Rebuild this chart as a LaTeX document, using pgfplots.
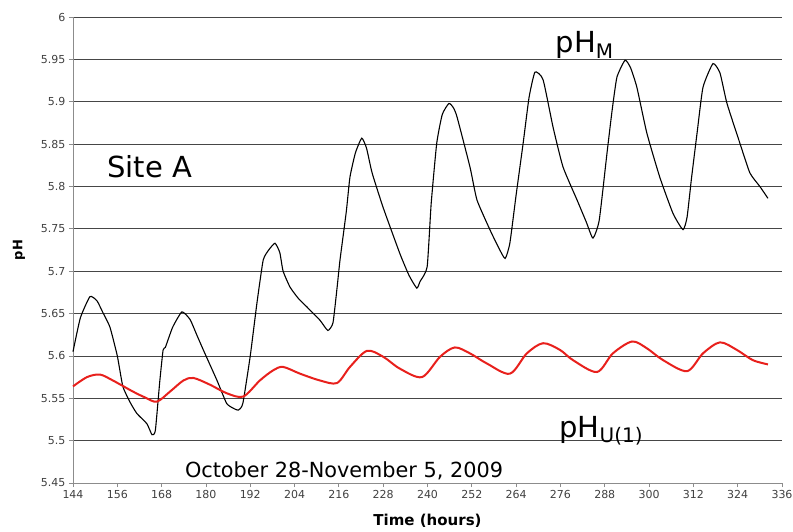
\documentclass[border=0pt]{standalone}
\usepackage{pgfplots}
\pgfplotsset{compat=1.18}
\usepackage{pgfplotstable}
\usepackage{fontspec}
\setmainfont{DejaVu Sans}
\definecolor{gridc}{RGB}{70,70,70}
\definecolor{axc}{RGB}{140,140,140}
\definecolor{redc}{RGB}{232,32,28}
\pgfplotstableread{
x y
144 5.605
146 5.645
148.6 5.670
150.5 5.665
152 5.652
154 5.634
156 5.600
157.5 5.564
159.5 5.545
161.3 5.532
164 5.520
165.4 5.507
166.3 5.512
167.5 5.570
168.4 5.607
169 5.610
171 5.634
173.5 5.652
175.7 5.643
177.5 5.625
179.3 5.607
183 5.571
185.6 5.544
187.5 5.538
188.8 5.536
190 5.544
192 5.600
193.8 5.662
195.5 5.713
197 5.725
198.7 5.733
200 5.722
200.9 5.700
202.8 5.681
205 5.668
207.3 5.658
210.9 5.642
213 5.630
214.4 5.639
215.5 5.680
216.3 5.713
218 5.770
219 5.811
220.5 5.840
222.2 5.857
223.5 5.845
225 5.816
228 5.775
232.5 5.721
235 5.695
237.1 5.680
238 5.688
239.9 5.705
241 5.780
242.5 5.851
244 5.885
245.8 5.898
247 5.893
248 5.882
251.5 5.823
253.4 5.784
256.9 5.749
259 5.730
261 5.715
262.3 5.733
264 5.790
265.9 5.851
267.5 5.905
269.1 5.935
271.3 5.926
274 5.870
276.7 5.823
280.5 5.784
283 5.758
284.8 5.739
286.5 5.760
288.6 5.839
290 5.890
291.3 5.929
293.5 5.949
295 5.940
296.7 5.917
299.4 5.863
302.9 5.811
306.5 5.768
309.2 5.749
310.3 5.764
311.5 5.810
313 5.863
314.6 5.917
317.3 5.945
319.2 5.934
321.1 5.898
324.6 5.851
327.3 5.816
330 5.800
332.2 5.786
}\phM
\pgfplotstableread{
x y
144 5.564
147.8 5.575
151.3 5.578
154.8 5.571
160.2 5.558
163.5 5.551
166.7 5.546
170.3 5.558
173.9 5.571
176.6 5.574
181.1 5.566
185.6 5.556
190.1 5.552
194.6 5.571
198.2 5.583
200.9 5.587
205.5 5.579
210.9 5.571
215.5 5.568
219 5.587
223.6 5.606
228 5.599
232.5 5.585
238.5 5.575
243.4 5.599
247.4 5.610
251.5 5.603
256.1 5.591
262.3 5.579
266.9 5.603
271.3 5.615
275.9 5.607
279.4 5.595
285.9 5.581
290.2 5.603
295.4 5.617
299.4 5.609
303.8 5.595
310.3 5.582
314.6 5.603
319.2 5.616
323.8 5.607
328.1 5.595
332.2 5.590
}\phU
\begin{document}
\begin{tikzpicture}
\begin{axis}[
  scale only axis,
  width=709pt, height=466pt,
  xmin=144, xmax=336, ymin=5.45, ymax=6,
  xtick={144,156,...,336},
  ytick={5.45,5.5,...,6.01},
  axis x line*=bottom, axis y line*=left,
  axis line style={axc, line width=0.8pt},
  tick align=outside, major tick length=4pt,
  tick style={axc, line width=0.8pt},
  ymajorgrids,
  grid style={gridc, line width=0.8pt},
  tick label style={font=\fontsize{11}{11}\selectfont, text=black!75},
  /pgf/number format/assume math mode=true,
  yticklabel style={/pgf/number format/.cd, fixed, precision=2},
  xticklabel style={/pgf/number format/.cd, fixed, set thousands separator={}},
  xlabel={\textbf{Time (hours)}},
  ylabel={\textbf{pH}},
  xlabel style={font=\fontsize{15}{15}\selectfont, at={(rel axis cs:0.5,0)}, anchor=base, yshift=-42pt},
  ylabel style={font=\fontsize{13}{13}\selectfont, at={(rel axis cs:0,0.5)}, anchor=center, yshift=54pt},
  clip=false,
]
\addplot[black, line width=1.1pt, smooth, tension=0.3] table[x=x,y=y] {\phM};
\addplot[redc, line width=2pt, smooth, tension=0.5] table[x=x,y=y] {\phU};
\node[font=\fontsize{29}{29}\selectfont] at (axis cs:164.8,5.823) {Site A};
\node[font=\fontsize{29}{29}\selectfont, anchor=base] at (axis cs:282.5,5.958) {pH\raisebox{-0.35ex}{\fontsize{20}{20}\selectfont M}};
\node[font=\fontsize{29}{29}\selectfont, anchor=base] at (axis cs:287,5.504) {pH\raisebox{-0.35ex}{\fontsize{20}{20}\selectfont U(1)}};
\node[font=\fontsize{20.8}{21}\selectfont, anchor=base] at (axis cs:217.4,5.456) {October 28-November 5, 2009};
\coordinate (O) at (rel axis cs:0,0);
\end{axis}
\pgfresetboundingbox
\useasboundingbox (O) ++(-73pt,-48pt) rectangle ++(793pt,531pt);
\end{tikzpicture}
\end{document}
